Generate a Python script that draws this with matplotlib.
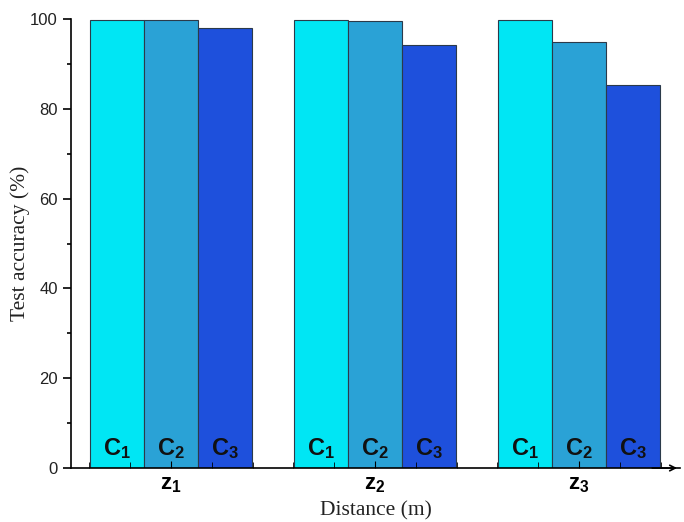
import numpy as np
import matplotlib.pyplot as plt
from matplotlib.ticker import MultipleLocator

plt.rcParams["mathtext.fontset"] = "custom"
plt.rcParams["mathtext.rm"] = "Liberation Sans"
plt.rcParams["mathtext.bf"] = "Liberation Sans:bold"
plt.rcParams["mathtext.it"] = "Liberation Sans:italic"

groups = ["$\\mathbf{z_1}$", "$\\mathbf{z_2}$", "$\\mathbf{z_3}$"]
classes = ["$\\mathbf{C_1}$", "$\\mathbf{C_2}$", "$\\mathbf{C_3}$"]
c1 = [99.9, 99.8, 99.9]
c2 = [99.9, 99.5, 94.9]
c3 = [98.0, 94.2, 85.3]
colors = ["#00E6F4", "#2AA2D6", "#1E50DC"]

fig = plt.figure(figsize=(6.84, 5.22), dpi=100)
ax = fig.add_axes([0.104, 0.1034, 0.89, 0.86])

x = np.arange(1, len(groups) + 1)
w = 0.265
for i, vals in enumerate([c1, c2, c3]):
    pos = x + (i - 1) * w
    ax.bar(pos, vals, width=w, color=colors[i], edgecolor="#2b3a4a", linewidth=0.8)
    for p in pos:
        ax.text(p, 1.5, classes[i], ha="center", va="bottom", fontsize=17,
                color="#111111")

ax.set_xlim(0.51, 3.495)
ax.set_ylim(0, 100)
ax.set_xticks(x)
ax.set_xticklabels(groups, fontsize=16)
ax.xaxis.set_minor_locator(MultipleLocator(0.2))
ax.tick_params(axis="x", which="both", direction="in", length=4, pad=5)
ax.tick_params(axis="x", which="major", length=5)
ax.yaxis.set_major_locator(MultipleLocator(20))
ax.yaxis.set_minor_locator(MultipleLocator(10))
ax.tick_params(axis="y", which="major", direction="out", length=6, width=1.2, labelsize=12)
ax.tick_params(axis="y", which="minor", direction="out", length=3, width=1.2)
for lab in ax.get_yticklabels():
    lab.set_family("Liberation Sans")
    lab.set_color("#222222")

ax.spines["top"].set_visible(False)
ax.spines["right"].set_visible(False)
ax.spines["left"].set_linewidth(1.2)
ax.spines["bottom"].set_linewidth(1.2)
ax.annotate("", xy=(1.0, 0), xytext=(0.95, 0), xycoords="axes fraction",
            arrowprops=dict(arrowstyle="->", color="black", lw=1.2))

ax.set_ylabel("Test accuracy (%)", family="Liberation Serif", fontsize=15.5, color="#222222")
ax.yaxis.set_label_coords(-0.067, 0.5)
ax.set_xlabel("Distance (m)", family="Liberation Serif", fontsize=15.5, color="#222222")
ax.xaxis.set_label_coords(0.5, -0.075)

fig.savefig("out.png", dpi=100)
